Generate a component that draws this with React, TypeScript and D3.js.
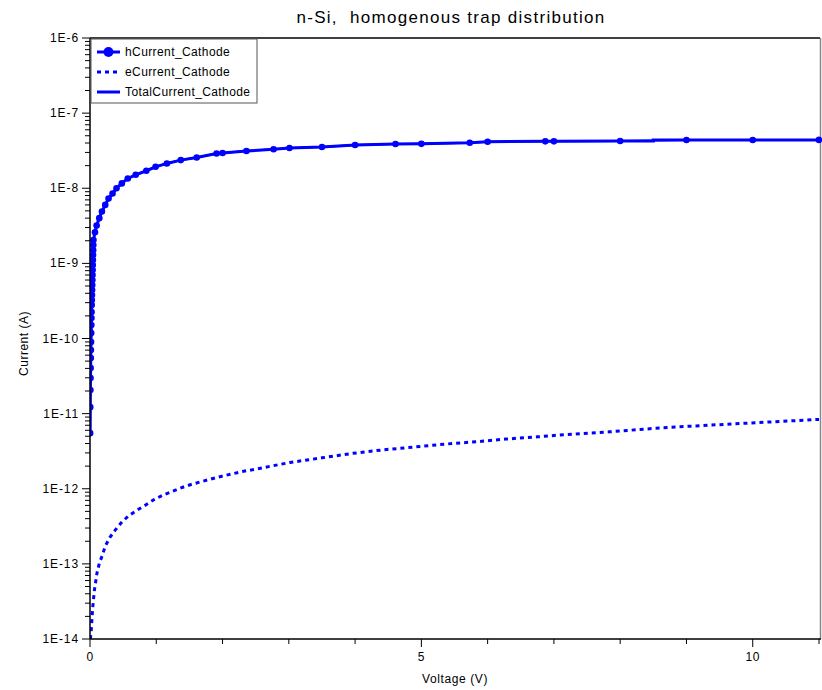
import React from "react";
import * as d3 from "d3";

const title = "n-Si,  homogenous trap distribution";
const xLabel = "Voltage (V)";
const yLabel = "Current (A)";
const seriesNames = ["hCurrent_Cathode", "eCurrent_Cathode", "TotalCurrent_Cathode"];

const yDecades = [-14, -13, -12, -11, -10, -9, -8, -7, -6];
const yTickLabels = ["1E-14", "1E-13", "1E-12", "1E-11", "1E-10", "1E-9", "1E-8", "1E-7", "1E-6"];
const xTicks = [0, 1, 2, 3, 4, 5, 6, 7, 8, 9, 10, 11];
const xTickLabels = ["0", "5", "10"];

const hVoltage = [
  0.002, 0.004, 0.006, 0.008, 0.01, 0.012, 0.014, 0.016, 0.018, 0.02, 0.022, 0.024, 0.026,
  0.028, 0.03, 0.032, 0.034, 0.036, 0.038, 0.04, 0.042, 0.044, 0.046, 0.048, 0.05, 0.052,
  0.075, 0.1, 0.14, 0.18, 0.23, 0.28, 0.34, 0.4, 0.48, 0.57, 0.69, 0.85, 0.99, 1.16, 1.37,
  1.61, 1.91, 2.0, 2.36, 2.77, 3.01, 3.5, 4.0, 4.61, 5.0, 5.73, 6.0, 6.87, 7.0, 8.0, 9.0, 10.0, 11.0,
];
const hCurrent = [
  5.5e-12, 1.22e-11, 2.06e-11, 2.97e-11, 4.04e-11, 5.48e-11, 7.01e-11, 8.96e-11, 1.18e-10,
  1.51e-10, 1.87e-10, 2.25e-10, 2.79e-10, 3.25e-10, 3.79e-10, 4.41e-10, 5.14e-10, 6.0e-10,
  6.98e-10, 8.14e-10, 9.49e-10, 1.11e-9, 1.29e-9, 1.5e-9, 1.75e-9, 2.04e-9,
  2.6e-9, 3.2e-9, 4.0e-9, 4.9e-9, 6.0e-9, 7.3e-9, 8.5e-9, 1.0e-8, 1.16e-8, 1.35e-8, 1.51e-8,
  1.71e-8, 1.93e-8, 2.14e-8, 2.37e-8, 2.57e-8, 2.9e-8, 2.95e-8, 3.13e-8, 3.3e-8, 3.43e-8,
  3.54e-8, 3.76e-8, 3.88e-8, 3.9e-8, 4.04e-8, 4.16e-8, 4.21e-8, 4.21e-8, 4.26e-8, 4.38e-8, 4.38e-8, 4.4e-8,
];

const totalVoltage = [
  0.002, 0.004, 0.006, 0.008, 0.01, 0.012, 0.014, 0.016, 0.018, 0.02, 0.022, 0.024, 0.026,
  0.028, 0.03, 0.032, 0.034, 0.036, 0.038, 0.04, 0.042, 0.044, 0.046, 0.048, 0.05, 0.052,
  0.075, 0.1, 0.14, 0.18, 0.23, 0.28, 0.34, 0.4, 0.48, 0.57, 0.69, 0.85, 0.99, 1.16, 1.37,
  1.61, 1.91, 2.0, 2.36, 2.77, 3.01, 3.5, 4.0, 4.61, 5.0, 5.73, 6.0, 6.87, 7.0, 8.0, 8.5, 8.5, 9.0, 10.0, 11.0,
];
const totalCurrent = [
  5.5e-12, 1.22e-11, 2.06e-11, 2.97e-11, 4.04e-11, 5.48e-11, 7.01e-11, 8.96e-11, 1.18e-10,
  1.51e-10, 1.87e-10, 2.25e-10, 2.79e-10, 3.25e-10, 3.79e-10, 4.41e-10, 5.14e-10, 6.0e-10,
  6.98e-10, 8.14e-10, 9.49e-10, 1.11e-9, 1.29e-9, 1.5e-9, 1.75e-9, 2.04e-9,
  2.6e-9, 3.2e-9, 4.0e-9, 4.9e-9, 6.0e-9, 7.3e-9, 8.5e-9, 1.0e-8, 1.16e-8, 1.35e-8, 1.51e-8,
  1.71e-8, 1.93e-8, 2.14e-8, 2.37e-8, 2.57e-8, 2.9e-8, 2.95e-8, 3.13e-8, 3.3e-8, 3.43e-8,
  3.54e-8, 3.76e-8, 3.88e-8, 3.9e-8, 4.04e-8, 4.16e-8, 4.21e-8, 4.21e-8, 4.26e-8, 4.26e-8, 4.38e-8, 4.38e-8, 4.38e-8, 4.4e-8,
];

const eVoltage = [
  0.006, 0.012, 0.02, 0.03, 0.04, 0.065, 0.106, 0.14, 0.19, 0.23, 0.3, 0.38, 0.47, 0.58, 0.71,
  0.835, 0.96, 1.1, 1.24, 1.39, 1.54, 1.69, 1.84, 1.99, 2.15, 2.3, 2.45, 3.02, 3.5, 3.95, 4.43,
  4.88, 5.36, 5.82, 6.27, 6.75, 7.2, 7.83, 8.71, 9.72, 11.0,
];
const eCurrent = [
  1.0e-14, 1.15e-14, 1.34e-14, 1.88e-14, 2.55e-14, 4.37e-14, 7.6e-14, 1.01e-13, 1.33e-13,
  1.72e-13, 2.25e-13, 2.81e-13, 3.52e-13, 4.35e-13, 5.19e-13, 6.05e-13, 7.12e-13, 8.22e-13,
  9.2e-13, 1.04e-12, 1.15e-12, 1.25e-12, 1.36e-12, 1.47e-12, 1.58e-12, 1.7e-12, 1.79e-12,
  2.24e-12, 2.58e-12, 2.95e-12, 3.3e-12, 3.58e-12, 3.93e-12, 4.22e-12, 4.58e-12, 4.91e-12,
  5.28e-12, 5.72e-12, 6.55e-12, 7.31e-12, 8.37e-12,
];

const W = 822;
const H = 690;
const L = 90;
const R = 819;
const T = 38;
const B = 639;
const BLUE = "#0000ff";
const FONT = "'Liberation Sans', Arial, sans-serif";

export default function App() {
  const x = d3.scaleLinear().domain([0, 11]).range([L, R]);
  const y = d3.scaleLog().domain([1e-14, 1e-6]).range([B, T]);

  const pts = (vs: number[], cs: number[]) => vs.map((v, i) => [v, cs[i]] as [number, number]);
  const line = d3
    .line<[number, number]>()
    .x((d) => x(d[0]))
    .y((d) => y(d[1]));

  const hPts = pts(hVoltage, hCurrent);
  const tPts = pts(totalVoltage, totalCurrent);
  const ePts = pts(eVoltage, eCurrent);

  const minorTicks: number[] = [];
  yDecades.slice(0, -1).forEach((d) => {
    for (let m = 2; m <= 9; m++) minorTicks.push(m * Math.pow(10, d));
  });

  return (
    <svg
      width={W}
      height={H}
      style={{ position: "absolute", left: 0, top: 0, display: "block", background: "#fff" }}
      fontFamily={FONT}
    >
      <rect x={0} y={0} width={W} height={H} fill="#fff" />
      <defs>
        <clipPath id="plotclip">
          <rect x={L} y={T - 4} width={R - L + 4} height={B - T + 4} />
        </clipPath>
      </defs>

      <text
        x={451}
        y={23}
        textAnchor="middle"
        fontSize={17}
        letterSpacing={1.3}
        fill="#000"
        style={{ whiteSpace: "pre" }}
      >
        {title}
      </text>

      {/* frame */}
      <line x1={L} x2={R + 1} y1={T} y2={T} stroke="#000" strokeWidth={1.5} />
      <line x1={R + 1.5} x2={R + 1.5} y1={T} y2={B} stroke="#888" strokeWidth={1.5} />

      {/* data */}
      <g clipPath="url(#plotclip)">
        <path d={line(ePts) || ""} fill="none" stroke={BLUE} strokeWidth={3} strokeDasharray="4,4" />
        <path d={line(tPts) || ""} fill="none" stroke={BLUE} strokeWidth={3} />
        <path d={line(hPts) || ""} fill="none" stroke={BLUE} strokeWidth={2} />
        {hPts.map((d, i) => (
          <circle key={i} cx={x(d[0])} cy={y(d[1])} r={3.3} fill={BLUE} />
        ))}
      </g>

      {/* y axis */}
      <line x1={L} x2={L} y1={T} y2={B} stroke="#000" strokeWidth={1.5} />
      {minorTicks.map((v, i) => (
        <line key={i} x1={L - 5} x2={L} y1={y(v)} y2={y(v)} stroke="#000" strokeWidth={1} />
      ))}
      {yDecades.map((d, i) => (
        <g key={d}>
          <line x1={L - 8} x2={L} y1={y(Math.pow(10, d))} y2={y(Math.pow(10, d))} stroke="#000" strokeWidth={1} />
          <text
            x={79}
            y={y(Math.pow(10, d)) + 4}
            textAnchor="end"
            fontSize={12}
            letterSpacing={0.9}
            fill="#000"
          >
            {yTickLabels[i]}
          </text>
        </g>
      ))}

      {/* x axis */}
      <line x1={L} x2={R + 2} y1={B} y2={B} stroke="#000" strokeWidth={1.5} />
      {xTicks.map((v) => (
        <line key={v} x1={x(v)} x2={x(v)} y1={B} y2={B + (v % 5 === 0 ? 8 : 5)} stroke="#000" strokeWidth={1} />
      ))}
      {xTickLabels.map((s) => (
        <text key={s} x={x(+s)} y={661} textAnchor="middle" fontSize={12} letterSpacing={0.5} fill="#000">
          {s}
        </text>
      ))}

      <text x={455} y={683} textAnchor="middle" fontSize={12} letterSpacing={0.6} fill="#000">
        {xLabel}
      </text>
      <text
        transform={`translate(28, ${(T + B) / 2 + 5}) rotate(-90)`}
        textAnchor="middle"
        fontSize={12}
        letterSpacing={0.5}
        fill="#000"
      >
        {yLabel}
      </text>

      {/* legend */}
      <g>
        <rect x={91} y={39} width={166} height={64} fill="#fff" stroke="#555" strokeWidth={1} />
        <line x1={97} x2={120} y1={52} y2={52} stroke={BLUE} strokeWidth={3} />
        <circle cx={108.5} cy={52} r={5} fill={BLUE} />
        <line x1={97} x2={120} y1={72} y2={72} stroke={BLUE} strokeWidth={3} strokeDasharray="4,4" />
        <line x1={97} x2={120} y1={92} y2={92} stroke={BLUE} strokeWidth={3} />
        {seriesNames.map((n, i) => (
          <text key={n} x={125} y={56 + i * 20} fontSize={12} letterSpacing={0.4} fill="#000">
            {n}
          </text>
        ))}
      </g>
    </svg>
  );
}
